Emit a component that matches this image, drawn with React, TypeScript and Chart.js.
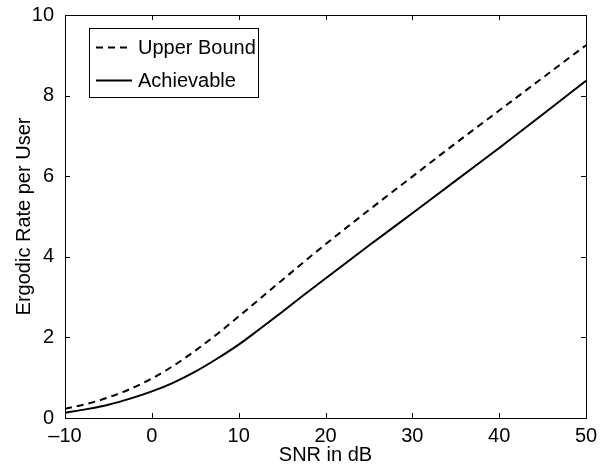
import React, { useEffect, useRef } from "react";
import { Chart, registerables } from "chart.js";

Chart.register(...registerables);

const snrDb = [-10, -7.5, -5, -2.5, 0, 2.5, 5, 7.5, 10, 12.5, 15, 17.5, 20, 25, 30, 35, 40, 45, 50];
const upperBound = [0.23, 0.35, 0.51, 0.72, 0.98, 1.3, 1.67, 2.08, 2.52, 2.97, 3.42, 3.87, 4.31, 5.16, 5.99, 6.82, 7.63, 8.44, 9.25];
const achievable = [0.13, 0.22, 0.33, 0.48, 0.66, 0.88, 1.15, 1.47, 1.82, 2.22, 2.63, 3.05, 3.46, 4.28, 5.08, 5.89, 6.7, 7.53, 8.37];
const xTickValues = [-10, 0, 10, 20, 30, 40, 50];
const xTickLabels = ["\u201310", "0", "10", "20", "30", "40", "50"];
const yTickValues = [0, 2, 4, 6, 8, 10];
const yTickLabels = ["0", "2", "4", "6", "8", "10"];
const seriesNames = ["Upper Bound", "Achievable"];

const FONT = "'Liberation Sans', Arial, Helvetica, sans-serif";
const FS = 20;

const boxPlugin = {
  id: "matlabBox",
  afterDraw(chart: any) {
    const { ctx, chartArea } = chart;
    const { left, right, top, bottom } = chartArea;
    const xs = chart.scales.x;
    const ys = chart.scales.y;
    ctx.save();
    ctx.strokeStyle = "#000";
    ctx.lineWidth = 1;
    const tl = 5;
    ctx.beginPath();
    xTickValues.forEach((v) => {
      const px = Math.round(xs.getPixelForValue(v)) + 0.5;
      ctx.moveTo(px, bottom);
      ctx.lineTo(px, bottom - tl);
      ctx.moveTo(px, top);
      ctx.lineTo(px, top + tl);
    });
    yTickValues.forEach((v) => {
      const py = Math.round(ys.getPixelForValue(v)) + 0.5;
      ctx.moveTo(left, py);
      ctx.lineTo(left + tl, py);
      ctx.moveTo(right, py);
      ctx.lineTo(right - tl, py);
    });
    ctx.stroke();
    ctx.strokeRect(Math.round(left) + 0.5, Math.round(top) + 0.5, Math.round(right - left), Math.round(bottom - top));

    const lx = 89.5, ly = 28.5, lw = 169, lh = 69;
    ctx.fillStyle = "#fff";
    ctx.fillRect(lx, ly, lw, lh);
    ctx.strokeRect(lx, ly, lw, lh);
    const rows = [47.5, 80.5];
    chart.data.datasets.forEach((ds: any, i: number) => {
      const y = rows[i];
      ctx.beginPath();
      ctx.lineWidth = 2;
      ctx.setLineDash(ds.borderDash || []);
      ctx.moveTo(96, y);
      ctx.lineTo(132, y);
      ctx.stroke();
      ctx.setLineDash([]);
      ctx.fillStyle = "#000";
      ctx.font = `${FS}px ${FONT}`;
      ctx.textBaseline = "middle";
      ctx.textAlign = "left";
      ctx.fillText(ds.label, 138, y + 1);
    });
    ctx.restore();
  },
};

export default function App() {
  const ref = useRef<HTMLCanvasElement | null>(null);
  useEffect(() => {
    if (!ref.current) return;
    const chart = new Chart(ref.current, {
      type: "line",
      data: {
        datasets: [
          {
            label: seriesNames[0],
            data: snrDb.map((x, i) => ({ x, y: upperBound[i] })),
            borderColor: "#000",
            borderWidth: 2,
            borderDash: [7, 5],
            pointRadius: 0,
            cubicInterpolationMode: "monotone",
            fill: false,
          },
          {
            label: seriesNames[1],
            data: snrDb.map((x, i) => ({ x, y: achievable[i] })),
            borderColor: "#000",
            borderWidth: 2,
            pointRadius: 0,
            cubicInterpolationMode: "monotone",
            fill: false,
          },
        ],
      },
      options: {
        animation: false,
        responsive: true,
        maintainAspectRatio: false,
        devicePixelRatio: 1,
        layout: { padding: { top: 7, right: 26, left: 0, bottom: 0 } },
        plugins: { legend: { display: false }, tooltip: { enabled: false } },
        scales: {
          x: {
            type: "linear",
            min: -10,
            max: 50,
            afterBuildTicks: (s: any) => {
              s.ticks = xTickValues.map((v) => ({ value: v }));
            },
            afterFit: (s: any) => {
              s.height = 50;
            },
            grid: { display: false },
            border: { display: false },
            ticks: {
              color: "#000",
              font: { family: FONT, size: FS },
              padding: -2,
              maxRotation: 0,
              autoSkip: false,
              callback: (v: any) => {
                const i = xTickValues.indexOf(Number(v));
                return i >= 0 ? xTickLabels[i] : "";
              },
            },
            title: {
              display: true,
              text: "SNR in dB",
              color: "#000",
              font: { family: FONT, size: FS },
              padding: { top: 0, bottom: 1 },
            },
          },
          y: {
            type: "linear",
            min: 0,
            max: 10,
            afterBuildTicks: (s: any) => {
              s.ticks = yTickValues.map((v) => ({ value: v }));
            },
            afterFit: (s: any) => {
              s.width = 65;
            },
            grid: { display: false },
            border: { display: false },
            ticks: {
              color: "#000",
              font: { family: FONT, size: FS },
              padding: 3,
              autoSkip: false,
              callback: (v: any) => {
                const i = yTickValues.indexOf(Number(v));
                return i >= 0 ? yTickLabels[i] : "";
              },
            },
            title: {
              display: true,
              text: "Ergodic Rate per User",
              color: "#000",
              font: { family: FONT, size: FS },
              padding: { top: 12, bottom: 0 },
            },
          },
        },
      },
      plugins: [boxPlugin],
    } as any);
    return () => chart.destroy();
  }, []);
  return (
    <div style={{ position: "absolute", left: 0, top: 0, width: 612, height: 468, background: "#fff" }}>
      <canvas ref={ref} />
    </div>
  );
}
